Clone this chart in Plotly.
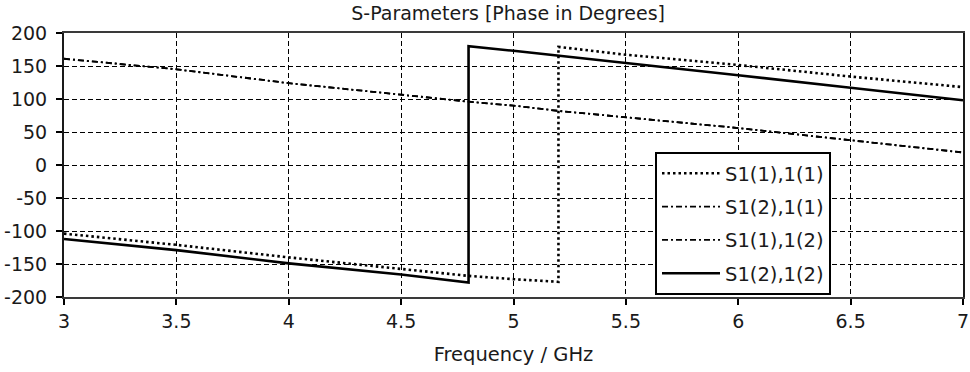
import plotly.graph_objects as go

# Phase of the S-parameters (degrees) versus frequency (GHz)
freq_s11 = [3.0, 3.5, 4.0, 4.8, 5.0, 5.2, 5.2, 5.5, 6.0, 6.5, 7.0]
phase_s11 = [-104, -121, -140, -168, -173, -177, 179, 167, 151.5, 134, 118]

freq_s21 = [3.0, 3.5, 4.0, 4.5, 4.8, 5.0, 5.2, 6.0, 6.5, 7.0]
phase_s21 = [161, 145, 124, 106, 96, 90, 82, 56, 38, 19]

freq_s12 = freq_s21
phase_s12 = phase_s21

freq_s22 = [3.0, 3.5, 4.0, 4.5, 4.8, 4.8, 5.0, 5.5, 6.0, 6.5, 7.0]
phase_s22 = [-112, -129, -149, -166, -178, 180, 173, 155, 136, 117, 98]

names = ["S1(1),1(1)", "S1(2),1(1)", "S1(1),1(2)", "S1(2),1(2)"]
x_ticks = [3, 3.5, 4, 4.5, 5, 5.5, 6, 6.5, 7]
x_tick_text = ["3", "3.5", "4", "4.5", "5", "5.5", "6", "6.5", "7"]
y_ticks = [200, 150, 100, 50, 0, -50, -100, -150, -200]
y_tick_text = ["200", "150", "100", "50", "0", "-50", "-100", "-150", "-200"]

FONT = "DejaVu Sans"
TXT = "#1a1a1a"

series = [
    (freq_s11, phase_s11, dict(color="black", width=2.6, dash="2.5px,3px")),
    (freq_s21, phase_s21, dict(color="black", width=1.8, dash="6px,3px,2px,3px")),
    (freq_s12, phase_s12, dict(color="black", width=1.8, dash="6px,3px,2px,3px")),
    (freq_s22, phase_s22, dict(color="black", width=2.6)),
]

fig = go.Figure()
for i, (xs, ys, line) in enumerate(series):
    fig.add_trace(go.Scatter(
        x=xs, y=ys, mode="lines", name=names[i], line=line,
        legendgroup=f"g{i}",
    ))

fig.update_layout(
    width=970, height=372,
    margin=dict(l=64, r=7, t=33, b=75),
    paper_bgcolor="white", plot_bgcolor="white",
    font=dict(family=FONT, size=19, color=TXT),
    title=dict(
        text="S-Parameters [Phase in Degrees]",
        x=0.494, xref="paper", xanchor="center",
        y=1 - 13 / 372, yref="container", yanchor="middle",
        font=dict(family=FONT, size=19, color=TXT),
    ),
    showlegend=True,
    legend=dict(
        x=(655 - 64) / 899, y=(297 - 152) / 264,
        xanchor="left", yanchor="top",
        bgcolor="white", bordercolor="black", borderwidth=2,
        font=dict(family=FONT, size=19.5, color=TXT),
        tracegroupgap=5, itemwidth=58,
        traceorder="grouped",
    ),
)

fig.update_xaxes(
    range=[3, 7], tickvals=x_ticks, ticktext=x_tick_text,
    ticklabeloverflow="allow", automargin=False,
    showgrid=True, gridcolor="black", gridwidth=1, griddash="5px,3px",
    showline=True, linecolor="#3a3a3a", linewidth=2, mirror=True,
    ticks="outside", ticklen=6, tickcolor="black", tickwidth=1.5,
    zeroline=False,
    title=dict(text="Frequency / GHz", standoff=17,
               font=dict(family=FONT, size=19.5, color=TXT)),
)
fig.update_yaxes(
    range=[-200, 200], tickvals=y_ticks, ticktext=y_tick_text,
    ticklabelstandoff=5, automargin=False,
    showgrid=True, gridcolor="black", gridwidth=1, griddash="5px,3px",
    showline=True, linecolor="#1a1a1a", linewidth=2, mirror=True,
    ticks="outside", ticklen=6, tickcolor="black", tickwidth=1.5,
    zeroline=False,
)

fig.write_html("out.html")
